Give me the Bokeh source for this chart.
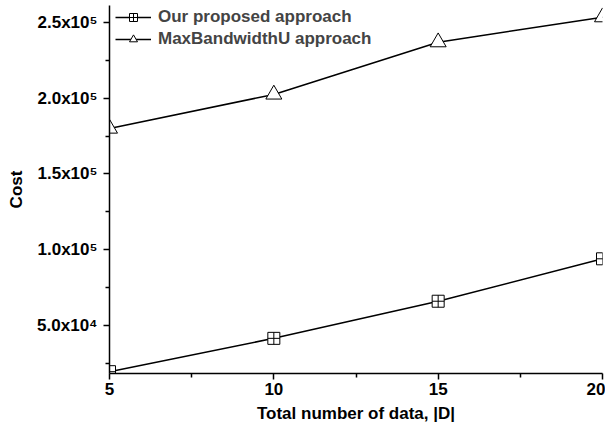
from bokeh.plotting import figure
from bokeh.models import FixedTicker, Range1d, Legend, LegendItem
from bokeh.embed import file_html
from bokeh.resources import INLINE

x_data = [5, 10, 15, 20]
ours = [19500, 41500, 66000, 94000]
maxbw = [180000, 202500, 237000, 253500]

x_ticks = [5, 10, 15, 20]
x_minor = [7.5, 12.5, 17.5]
y_ticks = [50000, 100000, 150000, 200000, 250000]
y_minor = [25000, 75000, 125000, 175000, 225000]
y_tick_labels = ["5.0x10⁴", "1.0x10⁵", "1.5x10⁵", "2.0x10⁵", "2.5x10⁵"]

FONT = "Liberation Sans"

p = figure(width=605, height=425, output_backend="svg", toolbar_location=None,
           x_range=Range1d(5, 20), y_range=Range1d(18300, 261200),
           min_border_left=109, min_border_right=3, min_border_top=5, min_border_bottom=52)
p.outline_line_color = None
p.grid.visible = False
p.background_fill_color = "white"

p.xaxis.ticker = FixedTicker(ticks=x_ticks, minor_ticks=x_minor)
p.yaxis.ticker = FixedTicker(ticks=y_ticks, minor_ticks=y_minor)
p.yaxis.major_label_overrides = {t: l for t, l in zip(y_ticks, y_tick_labels)}

for ax in (p.xaxis[0], p.yaxis[0]):
    ax.axis_line_width = 1.5
    ax.major_tick_line_width = 1.5
    ax.minor_tick_line_width = 1.5
    ax.major_tick_in = 0
    ax.major_tick_out = 6
    ax.minor_tick_in = 0
    ax.minor_tick_out = 4
    ax.major_label_text_font = FONT
    ax.major_label_text_font_style = "bold"
    ax.major_label_text_font_size = "17px"
    ax.major_label_text_color = "black"
    ax.axis_label_text_font = FONT
    ax.axis_label_text_font_style = "bold"
    ax.axis_label_text_font_size = "17px"
    ax.axis_label_text_color = "black"

p.yaxis.major_label_standoff = 6
p.xaxis.major_label_standoff = 3
p.xaxis.axis_label = "Total number of data, |D|"
p.yaxis.axis_label = "Cost"
p.xaxis.axis_label_standoff = 6
p.yaxis.axis_label_standoff = 8

l1 = p.line(x_data, ours, line_color="black", line_width=1.5)
s1 = p.scatter(x_data, ours, marker="square_cross", size=12, fill_color="white",
               line_color="black", line_width=1)
l2 = p.line(x_data, maxbw, line_color="black", line_width=1.5)
s2 = p.scatter(x_data, maxbw, marker="triangle", size=16, fill_color="white",
               line_color="black", line_width=1)

legend = Legend(items=[LegendItem(label="Our proposed approach", renderers=[l1, s1]),
                       LegendItem(label="MaxBandwidthU approach", renderers=[l2, s2])],
                location=(6, 324))
legend.border_line_color = None
legend.background_fill_alpha = 0
legend.label_text_font = FONT
legend.label_text_font_style = "bold"
legend.label_text_font_size = "17px"
legend.glyph_width = 36
legend.label_height = 18
legend.spacing = 2
legend.margin = 0
legend.padding = 6
legend.label_standoff = 7
p.add_layout(legend)

open("out.html", "w").write(file_html(p, INLINE))
